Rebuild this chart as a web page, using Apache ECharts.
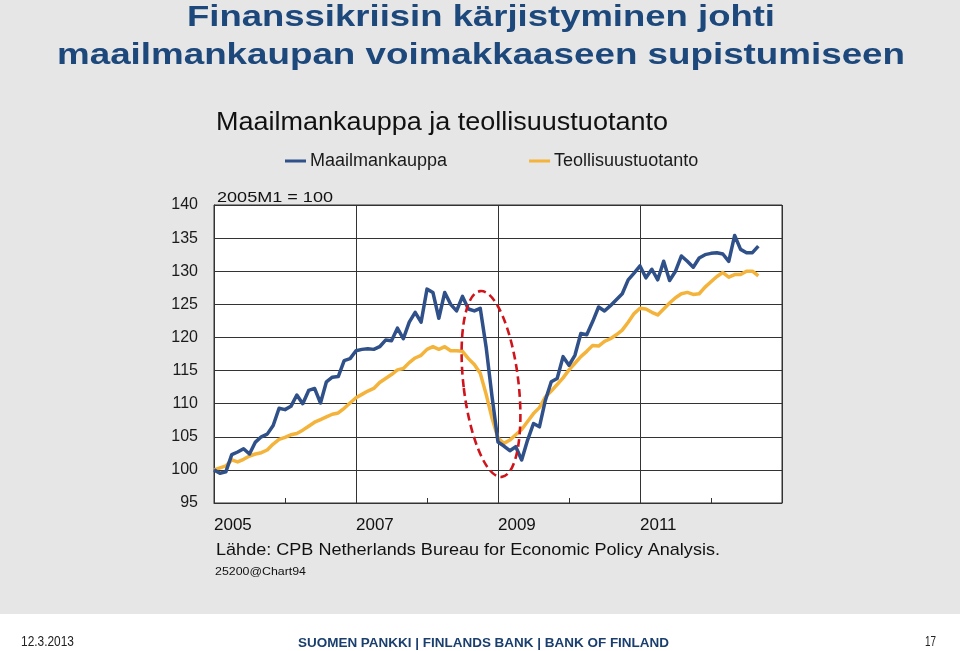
<!DOCTYPE html>
<html><head><meta charset="utf-8">
<script src="https://cdn.jsdelivr.net/npm/echarts@6/dist/echarts.min.js"></script>
<style>html,body{margin:0;padding:0;background:#e6e6e6;}#c{width:960px;height:651px;}</style>
</head><body><div id="c"></div>
<script>
// Monthly index, 2005M1 = 100 (2005M1 .. 2012M9)
const yearLabels = ['2005', '2007', '2009', '2011'];
const seriesNames = ['Maailmankauppa', 'Teollisuustuotanto'];
const maailmankauppa = [
  100.0, 99.5, 99.7, 102.3, 102.7, 103.2, 102.4, 104.2, 105.0, 105.4, 106.7, 109.3,
  109.1, 109.6, 111.3, 110.0, 112.0, 112.3, 110.1, 113.3, 114.0, 114.1, 116.5, 116.8,
  118.0, 118.2, 118.3, 118.2, 118.6, 119.6, 119.5, 121.4, 119.8, 122.3, 123.8, 122.3,
  127.3, 126.8, 122.9, 126.8, 125.0, 124.0, 126.2, 124.3, 124.0, 124.4, 118.5, 111.0,
  104.2, 103.6, 102.9, 103.5, 101.5, 104.5, 107.0, 106.5, 110.5, 113.3, 113.8, 117.1,
  115.8, 117.3, 120.6, 120.4, 122.4, 124.6, 124.0, 124.8, 125.7, 126.6, 128.7, 129.7,
  130.8, 129.0, 130.3, 128.7, 131.5, 128.6, 130.0, 132.3, 131.5, 130.6, 132.0, 132.5,
  132.7, 132.8, 132.6, 131.5, 135.4, 133.3, 132.8, 132.8, 133.8
];
const teollisuustuotanto = [
  100.0, 100.3, 100.6, 101.5, 101.2, 101.6, 102.1, 102.4, 102.6, 103.0, 103.9, 104.6,
  104.9, 105.3, 105.5, 106.0, 106.6, 107.2, 107.6, 108.0, 108.4, 108.6, 109.3, 110.1,
  110.9, 111.4, 111.9, 112.3, 113.2, 113.8, 114.4, 115.1, 115.3, 116.2, 116.9, 117.3,
  118.2, 118.6, 118.2, 118.6, 118.0, 118.0, 117.9, 116.8, 115.9, 114.6, 111.4, 107.8,
  104.8, 104.0, 104.5, 105.3, 106.1, 107.3, 108.5, 109.4, 111.0, 111.9, 112.9, 113.9,
  115.1, 116.1, 117.1, 117.9, 118.8, 118.7, 119.4, 119.8, 120.4, 121.1, 122.3, 123.6,
  124.4, 124.3, 123.8, 123.4, 124.3, 125.2, 126.0, 126.6, 126.8, 126.5, 126.6, 127.6,
  128.4, 129.2, 129.8, 129.1, 129.5, 129.5, 130.0, 130.0, 129.3
];

const toPairs = arr => arr.map((v, i) => [i, v]);
const FONT = '"Liberation Sans", Arial, sans-serif';
const TITLE_BLUE = '#1d487c';

// horizontal stretch so text matches the reference's widths
const mctx = document.createElement('canvas').getContext('2d');
function fit(text, font, target) { mctx.font = font; return target / mctx.measureText(text).width; }
function txt(text, font, x, y, align, target, fill) {
  return {type: 'text', x: x, y: y, scaleX: target ? fit(text, font, target) : 1, z: 5,
    style: {text: text, font: font, fill: fill || '#111', align: align, verticalAlign: 'middle'}};
}

const chart = echarts.init(document.getElementById('c'), null, {renderer: 'canvas'});
const t1 = 'Finanssikriisin kärjistyminen johti';
const t2 = 'maailmankaupan voimakkaaseen supistumiseen';
const sub = 'Maailmankauppa ja teollisuustuotanto';
const src = 'Lähde: CPB Netherlands Bureau for Economic Policy Analysis.';
const bank = 'SUOMEN PANKKI | FINLANDS BANK | BANK OF FINLAND';

chart.setOption({
  backgroundColor: '#e6e6e6',
  animation: false,
  textStyle: {fontFamily: FONT},
  grid: {left: 214, right: 178, top: 205, bottom: 148, containLabel: false, outerBoundsMode: 'none',
         show: true, backgroundColor: '#ffffff', borderColor: '#333', borderWidth: 1},
  legend: {
    left: 285, top: 152, padding: 0, itemGap: 82, itemWidth: 21, itemHeight: 3, icon: 'rect',
    textStyle: {fontFamily: FONT, fontSize: 18, color: '#1a1a1a', padding: [0, 0, 0, -1]},
    data: seriesNames
  },
  xAxis: {
    type: 'value', min: 0, max: 96, interval: 24,
    axisLine: {show: true, lineStyle: {color: '#333', width: 1}},
    axisTick: {show: true, inside: true, length: 5, lineStyle: {color: '#333'}},
    minorTick: {show: true, splitNumber: 2, length: 5, lineStyle: {color: '#333'}},
    splitLine: {show: true, lineStyle: {color: '#333', width: 1}},
    axisLabel: {
      fontFamily: FONT, fontSize: 17, color: '#111', align: 'left', margin: 14,
      formatter: v => { const k = Math.round(v / 24); return k < yearLabels.length ? yearLabels[k] : ''; }
    }
  },
  yAxis: {
    type: 'value', min: 95, max: 140, interval: 5,
    axisLine: {show: true, lineStyle: {color: '#333', width: 1}},
    axisTick: {show: false},
    splitLine: {show: true, lineStyle: {color: '#333', width: 1}},
    axisLabel: {fontFamily: FONT, fontSize: 16, color: '#1a1a1a', margin: 16}
  },
  series: [
    {name: seriesNames[0], type: 'line', data: toPairs(maailmankauppa), showSymbol: false, symbol: 'none',
     lineStyle: {color: '#2f5088', width: 3.5, join: 'round'}, itemStyle: {color: '#2f5088'}, z: 3},
    {name: seriesNames[1], type: 'line', data: toPairs(teollisuustuotanto), showSymbol: false, symbol: 'none',
     lineStyle: {color: '#f4b33a', width: 3.5, join: 'round'}, itemStyle: {color: '#f4b33a'}, z: 2}
  ],
  graphic: [
    txt(t1, 'bold 30px ' + FONT, 481, 18, 'center', 588, TITLE_BLUE),
    txt(t2, 'bold 30px ' + FONT, 481, 56, 'center', 848, TITLE_BLUE),
    txt(sub, '25px ' + FONT, 216, 123, 'left', 452, '#111'),
    txt('2005M1 = 100', '15px ' + FONT, 217, 198, 'left', 116, '#111'),
    txt(src, '17px ' + FONT, 216, 550, 'left', 504, '#111'),
    txt('25200@Chart94', '11px ' + FONT, 215, 572, 'left', 91, '#111'),
    {type: 'ellipse', shape: {cx: 0, cy: 0, rx: 27.5, ry: 93.5}, x: 491, y: 384, rotation: 0.116, z: 10,
      style: {fill: 'none', stroke: '#d0141c', lineWidth: 2.6, lineDash: [8, 4.5]}},
    {type: 'rect', shape: {x: 0, y: 614, width: 960, height: 37}, style: {fill: '#ffffff'}, z: 1},
    txt('12.3.2013', '14px ' + FONT, 21, 642, 'left', 53, '#222'),
    txt(bank, 'bold 13.5px ' + FONT, 298, 643, 'left', 371, '#1a3f6e'),
    txt('17', '14px ' + FONT, 925, 642, 'left', 11, '#222')
  ]
});
</script></body></html>
